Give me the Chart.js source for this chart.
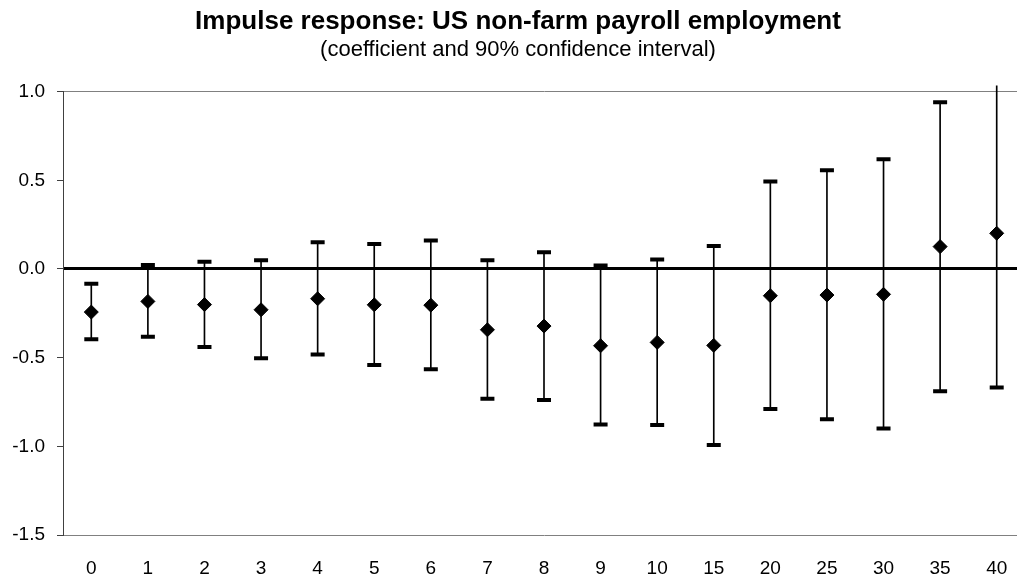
<!DOCTYPE html>
<html>
<head>
<meta charset="utf-8">
<script src="https://cdn.jsdelivr.net/npm/chart.js@4"></script>
<style>
    html, body{
        margin:0;
        padding:0;
        overflow:hidden;
        background:#fff;
    }
    #marco{
        width:1017px;
        height:581px;
        overflow:hidden;
    }
    canvas{
        display:block;
    }
</style>
</head>
<body>

<div id="marco">
    <canvas id="grafico" width="1036" height="581"></canvas>
</div>

<script>

const horizontes = [
    "0","1","2","3","4","5","6","7","8","9","10",
    "15","20","25","30","35","40"
];

const coeficiente = [
    -0.243, -0.183, -0.201, -0.230, -0.168, -0.202, -0.204, -0.343, -0.322,
    -0.433, -0.414, -0.431, -0.151, -0.147, -0.143, 0.126, 0.201
];

const limiteSuperior = [
    -0.083, 0.023, 0.040, 0.049, 0.150, 0.141, 0.160, 0.049, 0.094,
    0.019, 0.054, 0.130, 0.493, 0.557, 0.619, 0.940, 1.080
];

const limiteInferior = [
    -0.397, -0.382, -0.440, -0.504, -0.482, -0.542, -0.566, -0.732, -0.739,
    -0.877, -0.880, -0.993, -0.790, -0.847, -0.899, -0.689, -0.668
];

const ticksY = [ -1.5, -1.0, -0.5, 0.0, 0.5, 1.0 ];

Chart.defaults.font.family = "'Liberation Sans', Arial, sans-serif";
Chart.defaults.color = "#000";

new Chart(

    document.getElementById(
        "grafico"
    ),

    {

        data:{

            labels:
            horizontes,

            datasets:[

                {
                    type:"line",
                    label:"Coeficiente",
                    data:coeficiente,
                    showLine:false,
                    pointStyle:"rectRot",
                    pointRadius:7,
                    pointBackgroundColor:"#000",
                    pointBorderColor:"#000",
                    pointBorderWidth:1,
                    order:1
                },

                {
                    type:"line",
                    label:"Superior",
                    data:limiteSuperior,
                    showLine:false,
                    pointStyle:"line",
                    pointRadius:7,
                    pointBorderColor:"#000",
                    pointBorderWidth:4,
                    clip:0,
                    order:2
                },

                {
                    type:"line",
                    label:"Inferior",
                    data:limiteInferior,
                    showLine:false,
                    pointStyle:"line",
                    pointRadius:7,
                    pointBorderColor:"#000",
                    pointBorderWidth:4,
                    clip:0,
                    order:2
                },

                {
                    type:"bar",
                    label:"Intervalo",
                    data:limiteInferior.map(
                        (v, i) => [v, limiteSuperior[i]]
                    ),
                    backgroundColor:"#000",
                    barThickness:1,
                    clip:{left:0, top:6, right:0, bottom:0},
                    order:3
                }

            ]

        },

        options:{

            responsive:false,

            animation:false,

            events:[],

            layout:{
                padding:0
            },

            plugins:{

                legend:{
                    display:false
                },

                tooltip:{
                    enabled:false
                },

                title:{
                    display:true,
                    text:"Impulse response: US non-farm payroll employment",
                    font:{size:26, weight:"bold"},
                    color:"#000",
                    padding:{top:6, bottom:0}
                },

                subtitle:{
                    display:true,
                    text:"(coefficient and 90% confidence interval)",
                    font:{size:22},
                    color:"#000",
                    padding:{top:0, bottom:28}
                }

            },

            scales:{

                x:{
                    offset:true,
                    grid:{
                        display:false
                    },
                    border:{
                        color:"#808080",
                        width:1
                    },
                    ticks:{
                        font:{size:19},
                        padding:14,
                        maxRotation:0
                    },
                    afterFit:(escala) => {
                        escala.height = 46;
                        escala.paddingLeft = 0;
                        escala.paddingRight = 0;
                    }
                },

                y:{
                    min:-1.5,
                    max:1.0,
                    afterBuildTicks:(escala) => {
                        escala.ticks = ticksY.map(
                            v => ({value:v})
                        );
                    },
                    ticks:{
                        font:{size:19},
                        padding:12,
                        callback:(v) => Number(v).toFixed(1)
                    },
                    grid:{
                        color:(c) =>
                            c.tick.value === 0 ? "#000"
                            : c.tick.value === 1 ? "#808080"
                            : "rgba(0,0,0,0)",
                        lineWidth:(c) =>
                            c.tick.value === 0 ? 3 : 1,
                        tickColor:"#404040",
                        tickWidth:1,
                        tickLength:6
                    },
                    border:{
                        color:"#404040",
                        width:1
                    },
                    afterFit:(escala) => {
                        escala.width = 63;
                    }
                }

            }

        }

    }

);

</script>

</body>
</html>
